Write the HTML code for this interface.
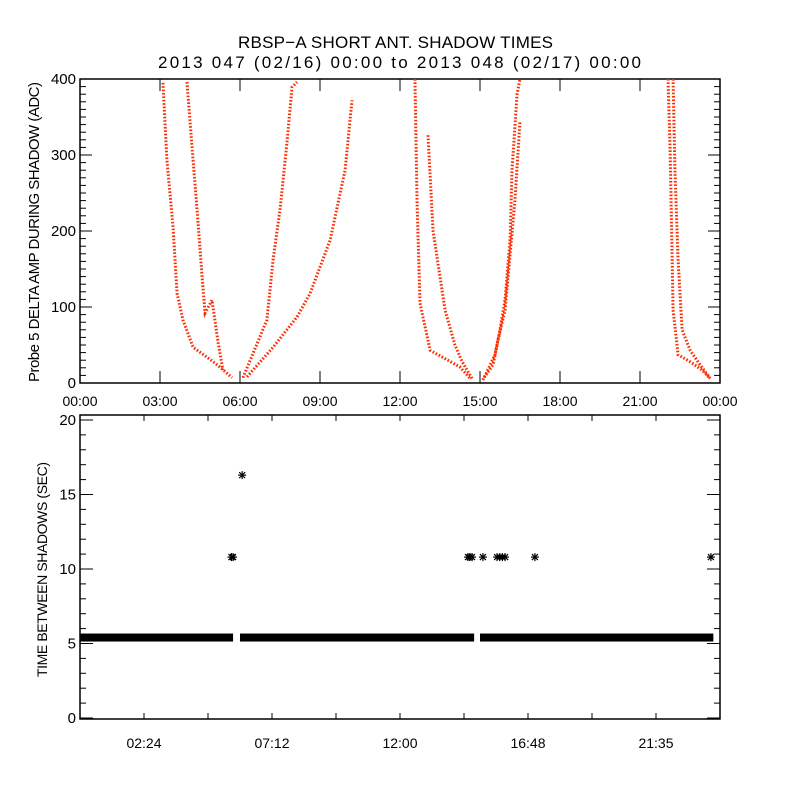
<!DOCTYPE html>
<html><head><meta charset="utf-8"><style>
body{margin:0;background:#fff}
text{font-family:"Liberation Sans",sans-serif;fill:#000}
</style></head><body>
<svg id="c" width="800" height="800" xmlns="http://www.w3.org/2000/svg">
<rect width="800" height="800" fill="#fff"/>
<text x="238" y="48" font-size="17" textLength="315" lengthAdjust="spacing">RBSP−A SHORT ANT. SHADOW TIMES</text>
<text x="158" y="68" font-size="17" textLength="483" lengthAdjust="spacing">2013 047 (02/16) 00:00 to 2013 048 (02/17) 00:00</text>
<g id="topPanel"></g><g id="botPanel"></g>
</svg>
<script>
const trackA=[[3.11,395],[3.26,293],[3.49,205],[3.64,118],[3.86,83],[4.24,47],[4.76,34],[5.25,21],[5.7,7]];
const trackB=[[4.01,396],[4.24,293],[4.39,228],[4.58,139],[4.69,92],[4.95,109],[5.18,53],[5.36,17]];
const trackC=[[6.11,7],[6.49,39],[7.01,83],[7.24,162],[7.5,228],[7.76,316],[7.95,389],[8.14,396]];
const trackD=[[6.26,8],[7.24,47],[8.14,87],[8.63,118],[9.38,188],[9.94,280],[10.2,372]];
const trackE=[[12.56,400],[12.64,237],[12.75,105],[13.13,43],[14.25,21],[14.63,6]];
const trackF=[[13.05,326],[13.24,200],[13.69,96],[14.06,50],[14.33,28],[14.7,6]];
const trackG=[[15.11,4],[15.56,37],[15.75,70],[15.94,110],[16.13,190],[16.2,280],[16.39,380],[16.5,400]];
const trackH=[[15.15,7],[15.49,24],[15.68,57],[15.94,96],[16.31,240],[16.5,345]];
const trackI=[[22.05,400],[22.13,306],[22.2,175],[22.24,96],[22.43,37],[22.88,28],[23.33,17],[23.63,6]];
const trackJ=[[22.24,400],[22.31,280],[22.43,160],[22.58,70],[22.88,43],[23.25,24],[23.63,6]];
const tracks=[trackA,trackB,trackC,trackD,trackE,trackF,trackG,trackH,trackI,trackJ];
const topXLabels=["00:00","03:00","06:00","09:00","12:00","15:00","18:00","21:00","00:00"];
const topYLabels=[0,100,200,300,400];
const baseSegments=[[0.02,5.74],[6.0,14.78],[15.0,23.75]];
const baseValue=5.4;
const starTimes=[5.68,5.74,6.08,14.55,14.62,14.7,15.11,15.64,15.74,15.84,15.94,17.06,23.66];
const starValues=[10.8,10.8,16.3,10.8,10.8,10.8,10.8,10.8,10.8,10.8,10.8,10.8,10.8];
const botXLabels=["02:24","07:12","12:00","16:48","21:35"];
const botYLabels=[0,5,10,15,20];

const NS="http://www.w3.org/2000/svg";
function mk(p,t,a){const e=document.createElementNS(NS,t);for(const k in a)e.setAttribute(k,a[k]);p.appendChild(e);return e;}
const tx=h=>80+h*(640/24);
const ty=v=>383-v*0.76;
const bx=h=>80+h*(640/24);
const by=v=>718-v*14.9;
const topG=document.getElementById('topPanel'), botG=document.getElementById('botPanel');

let f=mk(topG,'rect',{x:80,y:79,width:640,height:304,fill:'none',stroke:'#000','stroke-width':1.5});


for(let v=0;v<=400;v+=10){const L=v%100===0?12:6;const y=ty(v);
 mk(topG,'line',{x1:80,y1:y,x2:80+L,y2:y,stroke:'#000'});mk(topG,'line',{x1:720,y1:y,x2:720-L,y2:y,stroke:'#000'});}
topXLabels.forEach((l,i)=>{const x=tx(i*3);
 mk(topG,'line',{x1:x,y1:383,x2:x,y2:371,stroke:'#000'});mk(topG,'line',{x1:x,y1:79,x2:x,y2:91,stroke:'#000'});
 const t=mk(topG,'text',{x:x,y:406,'font-size':14,'text-anchor':'middle'});t.textContent=l;
 
 });
topYLabels.forEach(v=>{const t=mk(topG,'text',{x:76,y:ty(v)+5,'font-size':15,'text-anchor':'end'});t.textContent=v;
 
 });
let yt=mk(topG,'text',{x:0,y:0,'font-size':15,textLength:300,lengthAdjust:'spacing',transform:'translate(39,382) rotate(-90)'});
yt.textContent='Probe 5 DELTA AMP DURING SHADOW (ADC)';


tracks.forEach((tr,i)=>{const p=mk(topG,'polyline',{points:tr.map(d=>tx(d[0])+','+ty(d[1])).join(' '),fill:'none',stroke:'#ff2a00','stroke-width':3,'stroke-dasharray':'1.6 1.8'});
 
 });

f=mk(botG,'rect',{x:80,y:415,width:640,height:304,fill:'none',stroke:'#000','stroke-width':1.5});


for(let v=0;v<=20;v++){const L=v%5===0?13:6;const y=by(v);
 mk(botG,'line',{x1:80,y1:y,x2:80+L,y2:y,stroke:'#000'});mk(botG,'line',{x1:720,y1:y,x2:720-L,y2:y,stroke:'#000'});}
for(let h=2.4;h<24;h+=2.4){const x=bx(h);
 mk(botG,'line',{x1:x,y1:719,x2:x,y2:713,stroke:'#000'});mk(botG,'line',{x1:x,y1:415,x2:x,y2:421,stroke:'#000'});}
botXLabels.forEach((l,i)=>{const t=mk(botG,'text',{x:bx(2.4+i*4.8),y:748,'font-size':14,'text-anchor':'middle'});t.textContent=l;
 
 });
botYLabels.forEach(v=>{const t=mk(botG,'text',{x:76,y:by(v)+5,'font-size':15,'text-anchor':'end'});t.textContent=v;
 
 });
yt=mk(botG,'text',{x:0,y:0,'font-size':14,textLength:215,lengthAdjust:'spacing',transform:'translate(47,677) rotate(-90)'});
yt.textContent='TIME BETWEEN SHADOWS (SEC)';


baseSegments.forEach(s=>{const r=mk(botG,'rect',{x:bx(s[0]),y:by(baseValue)-4,width:bx(s[1])-bx(s[0]),height:8,fill:'#000'});
 
 });
starTimes.forEach((t,i)=>{const x=bx(t),y=by(starValues[i]);const g=mk(botG,'g',{stroke:'#000','stroke-width':1.2});
 
 
 mk(g,'line',{x1:x-4,y1:y,x2:x+4,y2:y});mk(g,'line',{x1:x,y1:y-4,x2:x,y2:y+4});
 mk(g,'line',{x1:x-3,y1:y-3,x2:x+3,y2:y+3});mk(g,'line',{x1:x-3,y1:y+3,x2:x+3,y2:y-3});});
</script>
</body></html>
